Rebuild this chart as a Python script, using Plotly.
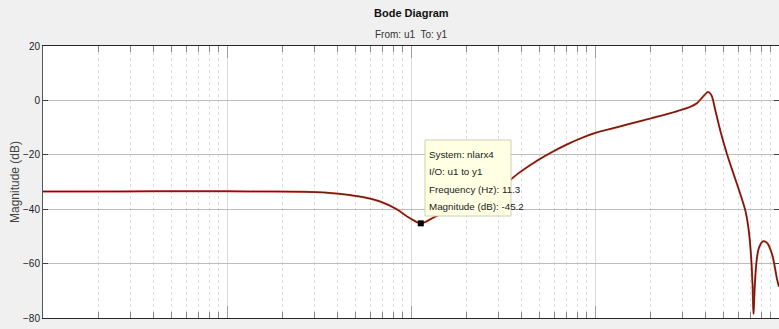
import plotly.graph_objects as go

# Frequency response
freq_hz = [0.1, 0.2, 0.4, 0.7, 1.0, 1.6, 2.5, 3.6, 5.45, 6.74,
           8.3, 9.8, 11.3, 13.4, 18.3, 23.5, 32.1, 38.7, 49.7, 58.7,
           69.4, 85.4, 101, 124, 153, 201, 269, 331, 359, 391,
           411, 428, 452, 481, 523, 568, 618, 658, 686, 706,
           718, 727, 739, 755, 777, 820, 862, 918, 977, 1000]
mag_db = [-33.5, -33.5, -33.4, -33.4, -33.4, -33.5, -33.6, -34.0, -35.5, -37.1,
          -39.9, -43.2, -45.2, -42.9, -38.5, -35.0, -30.8, -26.6, -21.7, -18.9,
          -16.4, -13.7, -11.9, -10.3, -8.7, -6.6, -4.3, -2.3, -1.0, 1.8,
          3.1, 2.1, -4.0, -11.4, -20.0, -27.3, -34.7, -40.8, -48.2, -57.9,
          -67.8, -78.5, -67.8, -59.2, -54.3, -51.8, -52.4, -56.7, -65.9, -68.5]

tip_freq = [11.3]
tip_mag = [-45.2]
tip_lines = ["System: nlarx4", "I/O: u1 to y1", "Frequency (Hz): 11.3", "Magnitude (dB): -45.2"]

y_ticks = [-80, -60, -40, -20, 0, 20]
decades = [0.1, 1, 10, 100, 1000]
minor_vals = [m * d for d in [0.1, 1, 10, 100] for m in range(2, 10)]

FONT = "Liberation Sans, Arial, sans-serif"

W, H = 779, 329
L, R, T, B = 43, 0, 46, 11
pw, ph = W - L - R, H - T - B

fig = go.Figure()
fig.add_trace(go.Scatter(x=freq_hz, y=mag_db, mode="lines",
                         line=dict(color="#d0321e", width=2.0, shape="spline", smoothing=0.9),
                         hoverinfo="skip", showlegend=False))
fig.add_trace(go.Scatter(x=freq_hz, y=mag_db, mode="lines",
                         line=dict(color="#4a1e14", width=1.0, shape="spline", smoothing=0.9),
                         hoverinfo="skip", showlegend=False))
fig.add_trace(go.Scatter(x=tip_freq, y=tip_mag, mode="markers",
                         marker=dict(symbol="square", size=6, color="black"),
                         hoverinfo="skip", showlegend=False))

def px_x(x):
    return (x - L) / pw

def px_y(y):
    return (H - B - y) / ph

# datatip box
bx0, bx1, by0, by1 = 425, 511, 140, 216
fig.add_shape(type="rect", xref="paper", yref="paper",
              x0=px_x(bx0), x1=px_x(bx1), y0=px_y(by1), y1=px_y(by0),
              fillcolor="#ffffe3", line=dict(color="#cfcfb0", width=1), layer="above")
for i, t in enumerate(tip_lines):
    fig.add_annotation(xref="paper", yref="paper", x=px_x(427), y=px_y(154 + 17.5 * i),
                       text=t, showarrow=False, xanchor="left", yanchor="middle",
                       font=dict(family=FONT, size=9.8, color="#222222"))

# titles
fig.add_annotation(xref="paper", yref="paper", x=0.5, y=px_y(13), text="<b>Bode Diagram</b>",
                   showarrow=False, xanchor="center", yanchor="middle",
                   font=dict(family=FONT, size=11, color="#111111"))
fig.add_annotation(xref="paper", yref="paper", x=0.5, y=px_y(35), text="From: u1  To: y1",
                   showarrow=False, xanchor="center", yanchor="middle",
                   font=dict(family=FONT, size=10, color="#333333"))

fig.update_layout(
    width=W, height=H,
    margin=dict(l=L, r=R, t=T, b=B, pad=0, autoexpand=False),
    paper_bgcolor="#f0f0f0", plot_bgcolor="white",
    xaxis=dict(type="log", range=[-1, 3], tickmode="array", tickvals=decades,
               showticklabels=False, ticks="inside", ticklen=12, tickcolor="#a0a0a0",
               showgrid=True, gridcolor="#dadada", gridwidth=1, automargin=False,
               showline=True, linecolor="#262626", linewidth=1, mirror="allticks",
               zeroline=False,
               minor=dict(tickmode="array", tickvals=minor_vals, ticks="inside", ticklen=6,
                          tickcolor="#888888", showgrid=True, gridcolor="#dddddd",
                          griddash="dot", gridwidth=1)),
    yaxis=dict(range=[-80, 20], tickmode="array", tickvals=y_ticks, automargin=False,
               ticks="inside", ticklen=5, tickcolor="#404040",
               showgrid=True, gridcolor="#bdbdbd", gridwidth=1, zeroline=False,
               showline=True, linecolor="#555555", linewidth=1, mirror="allticks",
               tickfont=dict(family=FONT, size=10, color="#222222"),
               title=dict(text="Magnitude (dB)", standoff=0,
                          font=dict(family=FONT, size=12, color="#444444"))),
)

fig.write_html("out.html", config={"displayModeBar": False},
               post_script="document.body.style.margin='0';document.body.style.overflow='hidden';document.body.style.background='#f0f0f0';")
